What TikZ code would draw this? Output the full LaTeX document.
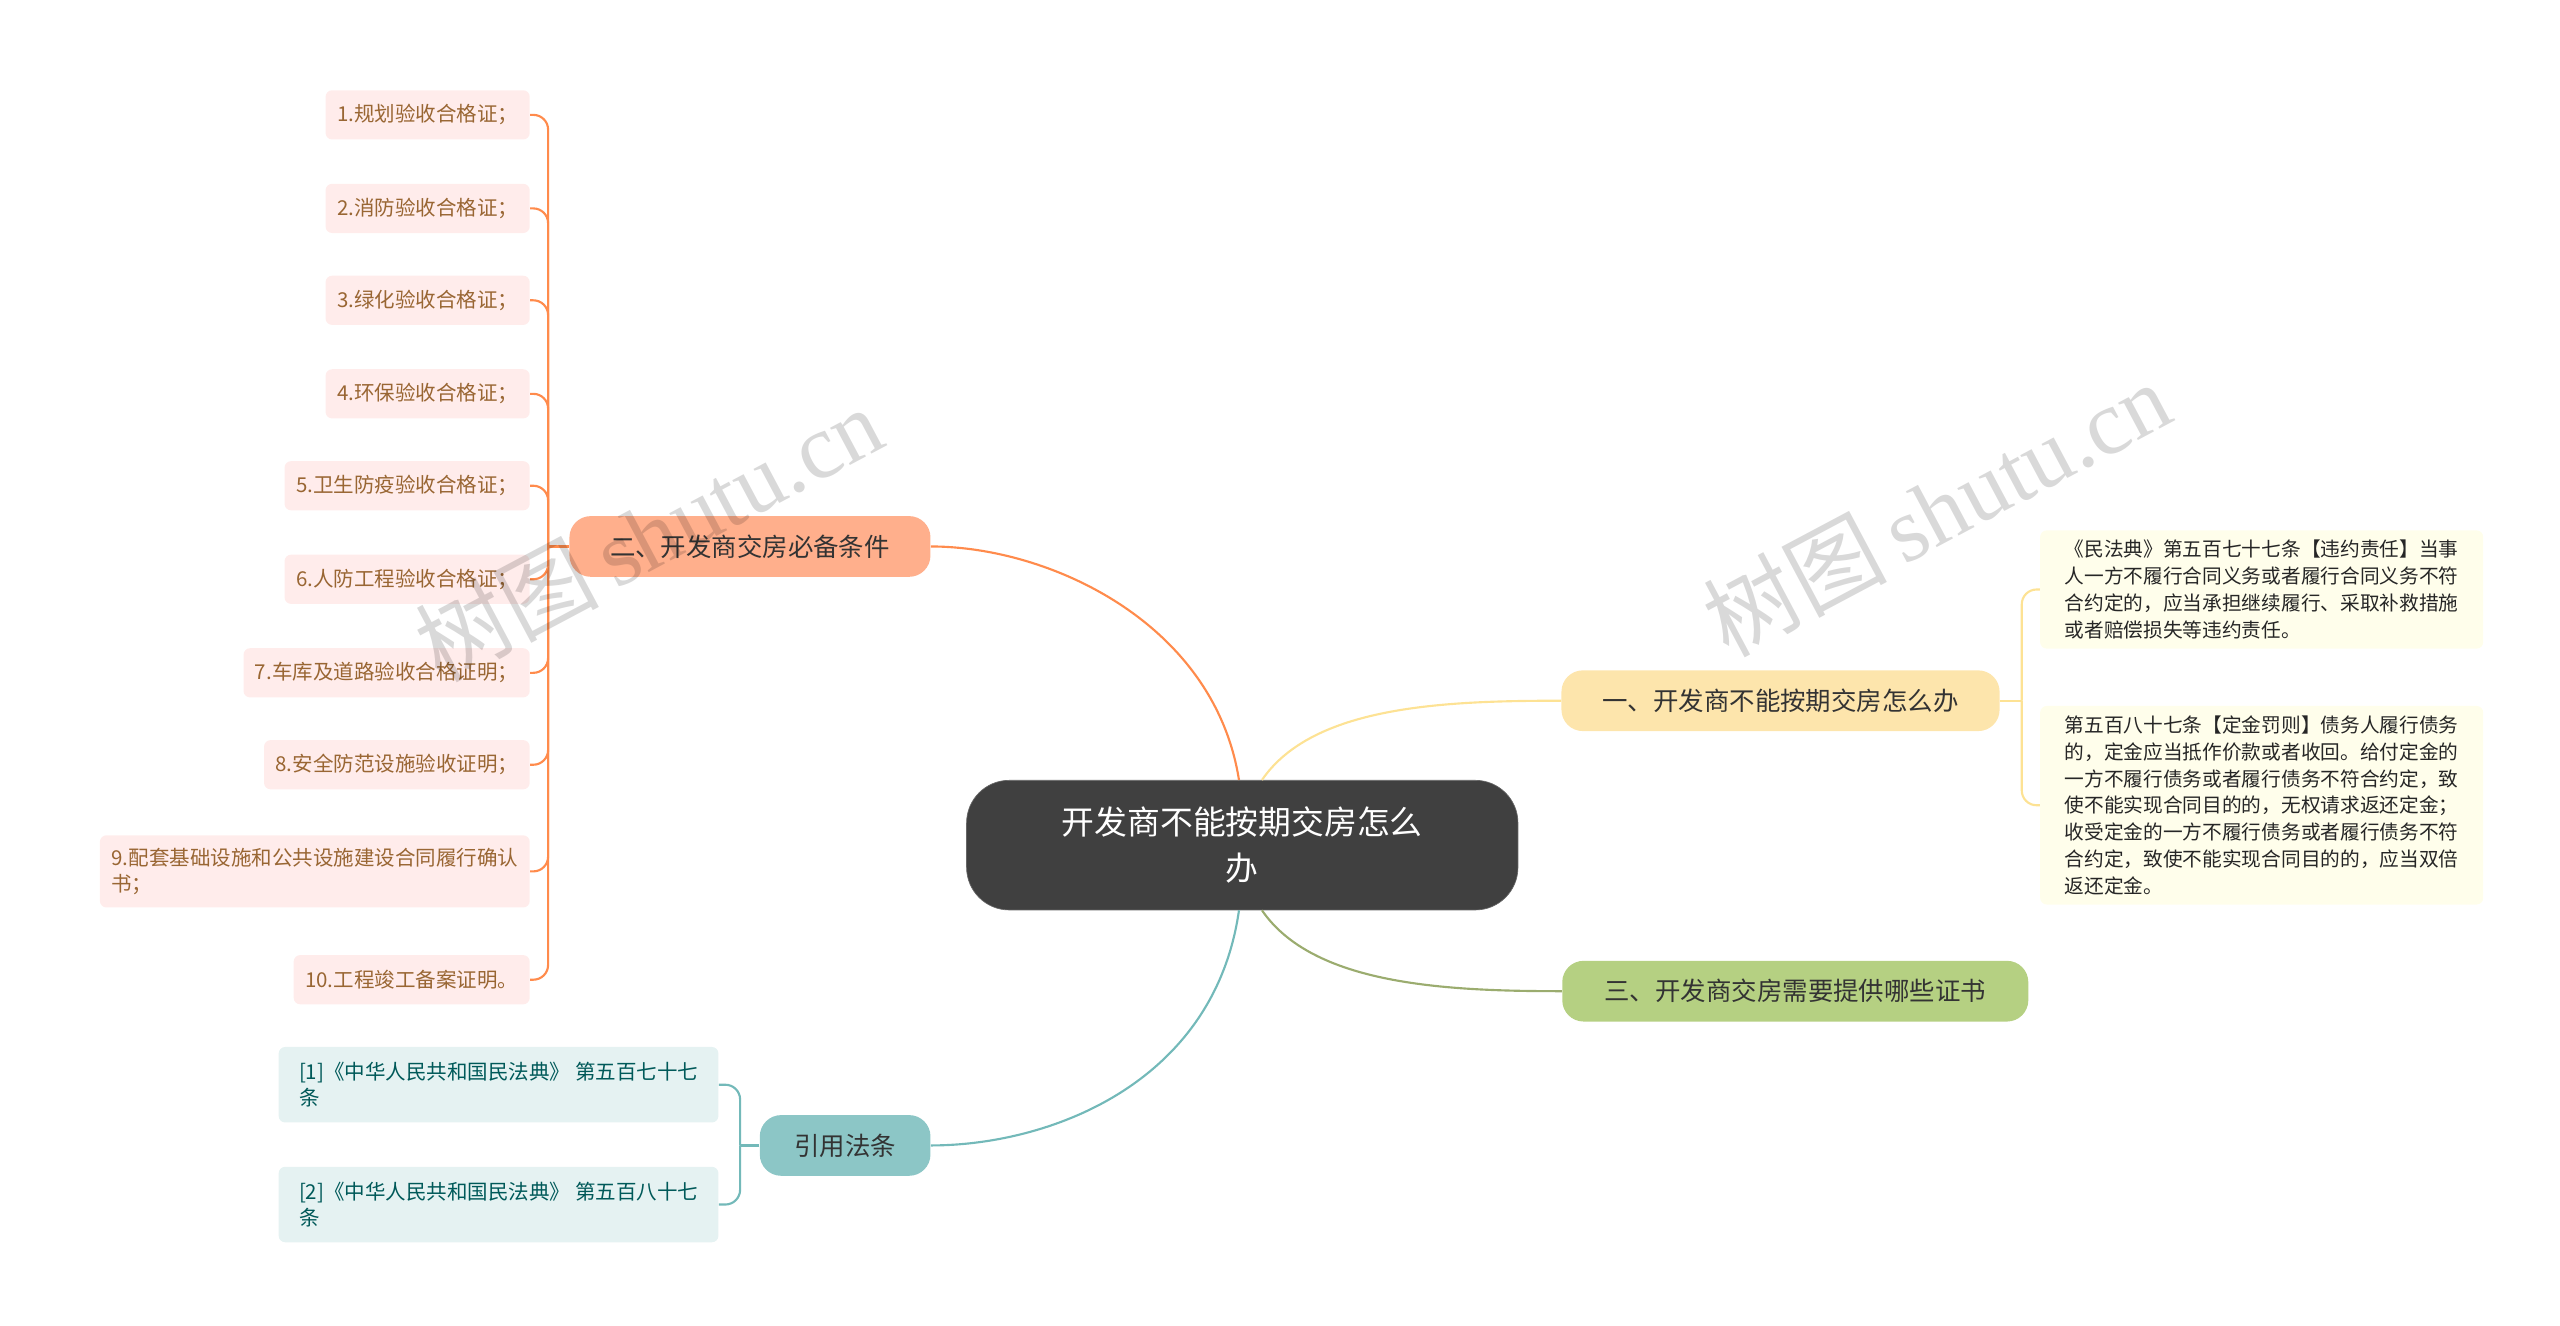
\documentclass[tikz,border=0pt]{standalone}
\usepackage{fontspec}
\setmainfont{Noto Sans CJK SC}
\newfontfamily\wmfont{Liberation Serif}
\begin{document}
\begin{tikzpicture}[x=1pt,y=-1pt,
  center/.style={rounded corners=26,fill=black!75,draw=black!60,text=white,font=\fontsize{20}{28}\selectfont,align=center,minimum width=336,minimum height=79},
  br/.style={rounded corners=13,font=\fontsize{15.5}{18}\selectfont,minimum height=37,inner xsep=12,text=black!80},
  lfo/.style={rounded corners=4,fill=orange!10!red!8!white,text=brown!80!black,font=\fontsize{12.5}{16}\selectfont,minimum height=30,align=left,inner xsep=7},
  lfy/.style={rounded corners=4,fill=yellow!8!white,text=black!85,font=\fontsize{12}{16.3}\selectfont,align=left,inner sep=6},
  lft/.style={rounded corners=4,fill=teal!10!white,text=teal!70!black,font=\fontsize{12.5}{16}\selectfont,align=left,inner sep=7,minimum width=268,minimum height=46},
  eo/.style={draw=orange!70!red!70!white,line width=1.3},
  ey/.style={draw=yellow!50!orange!40!white,line width=1.3},
  eg/.style={draw=olive!60!green!70!black!60,line width=1.3},
  et/.style={draw=teal!55!white,line width=1.3},
  wm/.style={text=black,opacity=0.15,font=\fontsize{56}{56}\selectfont,rotate=28}]
\useasboundingbox (0,0) rectangle (1560,808);
\node[center] (c) at (757,515) {开发商不能按期交房怎么\\办};
\node[br,fill=orange!60!red!45!white,minimum width=220] (b2) at (457,333) {二、开发商交房必备条件};
\node[br,fill=yellow!40!orange!30!white,minimum width=267] (b1) at (1085,427) {一、开发商不能按期交房怎么办};
\node[br,fill=olive!55!green!45!white,minimum width=284] (b3) at (1094,604) {三、开发商交房需要提供哪些证书};
\node[br,fill=teal!45!white,minimum width=104] (b4) at (515,698) {引用法条};
\draw[eo] (c.north) ++(-2,0) coordinate (co) .. controls (740,380) and (640,333) .. (b2.east);
\draw[ey] (c.north) ++(12,0) coordinate (cy) .. controls (800,430) and (880,427) .. (b1.west);
\draw[eg] (c.south) ++(12,0) coordinate (cg) .. controls (800,600) and (880,604) .. (b3.west);
\draw[et] (c.south) ++(-2,0) coordinate (ct) .. controls (740,660) and (640,698) .. (b4.east);
\foreach \n/\y/\t in {1/70/1.规划验收合格证；,2/127/2.消防验收合格证；,3/183/3.绿化验收合格证；,4/240/4.环保验收合格证；,5/296/5.卫生防疫验收合格证；,6/353/6.人防工程验收合格证；,7/410/7.车库及道路验收合格证明；,8/466/8.安全防范设施验收证明；,10/597/10.工程竣工备案证明。}{
  \node[lfo,anchor=east] (l\n) at (323,\y) {\t};
}
\node[lfo,anchor=east,minimum height=44] (l9) at (323,531) {9.配套基础设施和公共设施建设合同履行确认\\书；};
\coordinate (so) at (334,333);
\draw[eo] (b2.west) -- (so);
\foreach \n in {1,...,10}{\draw[eo,rounded corners=9] (so) |- (l\n.east);}
\node[lfy,anchor=north west,minimum width=270] (r1) at (1243,323) {《民法典》第五百七十七条【违约责任】当事\\人一方不履行合同义务或者履行合同义务不符\\合约定的，应当承担继续履行、采取补救措施\\或者赔偿损失等违约责任。};
\node[lfy,anchor=north west,minimum width=270] (r2) at (1243,430) {第五百八十七条【定金罚则】债务人履行债务\\的，定金应当抵作价款或者收回。给付定金的\\一方不履行债务或者履行债务不符合约定，致\\使不能实现合同目的的，无权请求返还定金；\\收受定金的一方不履行债务或者履行债务不符\\合约定，致使不能实现合同目的的，应当双倍\\返还定金。};
\coordinate (sy) at (1232,427);
\draw[ey] (b1.east) -- (sy);
\draw[ey,rounded corners=9] (sy) |- (r1.west);
\draw[ey,rounded corners=9] (sy) |- (r2.west);
\node[lft,anchor=east] (t1) at (438,661) {[1]《中华人民共和国民法典》 第五百七十七\\条};
\node[lft,anchor=east] (t2) at (438,734) {[2]《中华人民共和国民法典》 第五百八十七\\条};
\coordinate (st) at (451,698);
\draw[et] (b4.west) -- (st);
\draw[et,rounded corners=9] (st) |- (t1.east);
\draw[et,rounded corners=9] (st) |- (t2.east);
\node[wm] (w1) at (395,325) {树图\,{\wmfont shutu.cn}};
\node[wm] (w2) at (1180,310) {树图\,{\wmfont shutu.cn}};
\end{tikzpicture}
\end{document}
